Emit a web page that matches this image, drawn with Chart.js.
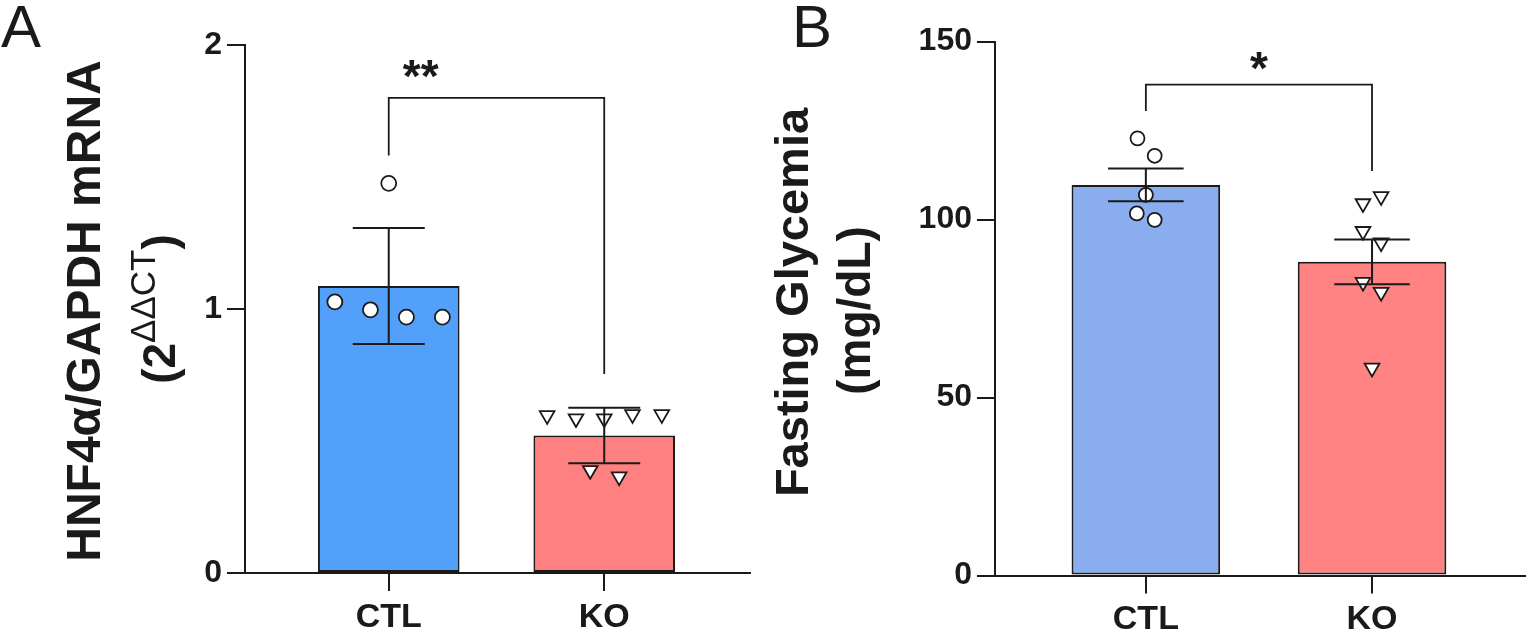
<!DOCTYPE html>
<html>
<head>
<meta charset="utf-8">
<script src="https://cdn.jsdelivr.net/npm/chart.js@4.4.1/dist/chart.umd.min.js"></script>
<style>
  html, body { margin: 0; padding: 0; background: #fff; }
  .panel { position: absolute; top: 0; height: 633px; }
  #boxA { left: 0; width: 760px; }
  #boxB { left: 760px; width: 775px; }
</style>
</head>
<body>
<div class="panel" id="boxA"><canvas id="chartA"></canvas></div>
<div class="panel" id="boxB"><canvas id="chartB"></canvas></div>
<script>
// groups on the x axis
const groups = ['CTL', 'KO'];

// panel A: HNF4a / GAPDH mRNA
const mrnaMean = [1.087, 0.521];
const mrnaSem = [0.22, 0.105];
const mrnaCtl = [1.476, 1.027, 0.997, 0.969, 0.969];
const mrnaCtlX = [0, -0.25, -0.085, 0.082, 0.249];
const mrnaKo = [0.597, 0.585, 0.585, 0.601, 0.601, 0.389, 0.365];
const mrnaKoX = [-0.265, -0.131, 0, 0.131, 0.267, -0.065, 0.069];
const mrnaBracketX = [0, 0, 1, 1];
const mrnaBracketY = [1.581, 1.80, 1.80, 0.754];
const mrnaTicks = [0, 1, 2];

// panel B: fasting glycemia
const glyMean = [109.7, 88.1];
const glySem = [4.6, 6.3];
const glyCtl = [122.8, 117.9, 106.9, 101.7, 99.9];
const glyCtlX = [-0.037, 0.039, 0, -0.04, 0.039];
const glyKo = [104.5, 106.5, 96.7, 93.5, 82.4, 79.6, 58.3];
const glyKoX = [-0.04, 0.04, -0.04, 0.04, -0.04, 0.04, 0];
const glyBracketX = [0, 0, 1, 1];
const glyBracketY = [130.5, 137.9, 137.9, 113.6];
const glyTicks = [0, 50, 100, 150];

const FONT = '"Liberation Sans", Arial, Helvetica, sans-serif';
const INK = '#1a1a1a';

function pts(xs, ys, base) {
    return ys.map((v, i) => ({ x: base + xs[i], y: v }));
}

// error bars, significance star, axis title and panel letter
function makeExtras(o) {
    return {
        id: 'extras',
        afterDatasetsDraw(chart) {
            const ctx = chart.ctx;
            const x = chart.scales.x, y = chart.scales.y;
            ctx.save();
            ctx.strokeStyle = INK;
            ctx.lineWidth = 2;
            o.mean.forEach((m, i) => {
                const px = x.getPixelForValue(i);
                const hw = x.getPixelForValue(i + 0.167) - px;
                const top = y.getPixelForValue(m + o.sem[i]);
                const bot = y.getPixelForValue(m - o.sem[i]);
                ctx.beginPath();
                ctx.moveTo(px, top); ctx.lineTo(px, bot);
                ctx.moveTo(px - hw, top); ctx.lineTo(px + hw, top);
                ctx.moveTo(px - hw, bot); ctx.lineTo(px + hw, bot);
                ctx.stroke();
            });
            ctx.fillStyle = INK;
            ctx.font = 'bold 46px ' + FONT;
            ctx.textAlign = 'center';
            ctx.textBaseline = 'alphabetic';
            ctx.fillText(o.star, x.getPixelForValue(o.starX), y.getPixelForValue(o.starY) + 26);
            ctx.restore();
        },
        afterDraw(chart) {
            const ctx = chart.ctx;
            const area = chart.chartArea;
            const cy = (area.top + area.bottom) / 2;
            ctx.save();
            ctx.fillStyle = INK;
            // panel letter
            ctx.font = '60px ' + FONT;
            ctx.textAlign = 'left';
            ctx.textBaseline = 'alphabetic';
            ctx.fillText(o.letter, o.letterX, 47);
            // rotated y title, each line is a list of [text, font, raise]
            o.title.forEach((line) => {
                let w = 0;
                line.parts.forEach((p) => { ctx.font = p[1]; w += ctx.measureText(p[0]).width; });
                ctx.save();
                ctx.translate(line.base, cy + line.shift);
                ctx.rotate(-Math.PI / 2);
                let pos = -w / 2;
                line.parts.forEach((p) => {
                    ctx.font = p[1];
                    ctx.fillText(p[0], pos, -(p[2] || 0));
                    pos += ctx.measureText(p[0]).width;
                });
                ctx.restore();
            });
            ctx.restore();
        }
    };
}

function makePanel(id, p) {
    const ctx = document.getElementById(id).getContext('2d');
    return new Chart(ctx, {
        type: 'bar',
        data: {
            datasets: [{
                type: 'line',
                data: pts(p.bracketX, p.bracketY, 0),
                borderColor: INK,
                borderWidth: 1.8,
                pointRadius: 0,
                tension: 0,
                fill: false,
                order: 0
            }, {
                type: 'scatter',
                data: pts(p.ctlX, p.ctl, 0),
                pointStyle: 'circle',
                pointRadius: p.dot,
                backgroundColor: '#ffffff',
                borderColor: INK,
                borderWidth: 1.8,
                order: 1
            }, {
                type: 'scatter',
                data: pts(p.koX, p.ko, 1),
                pointStyle: 'triangle',
                rotation: 180,
                pointRadius: 8.5,
                backgroundColor: '#ffffff',
                borderColor: INK,
                borderWidth: 1.8,
                order: 2
            }, {
                type: 'bar',
                data: p.mean.map((v, i) => ({ x: i, y: v })),
                backgroundColor: p.colors,
                borderColor: INK,
                borderWidth: 2,
                borderSkipped: false,
                barPercentage: 0.657,
                categoryPercentage: 1,
                order: 3
            }]
        },
        options: {
            responsive: true,
            maintainAspectRatio: false,
            animation: false,
            events: [],
            layout: { padding: { left: 0, right: p.padRight, top: p.padTop, bottom: 0 } },
            plugins: {
                legend: { display: false },
                tooltip: { enabled: false }
            },
            scales: {
                x: {
                    type: 'linear',
                    offset: false,
                    min: -0.667,
                    max: 1.675,
                    afterFit: (s) => { s.height = p.xHeight; },
                    afterBuildTicks: (s) => { s.ticks = groups.map((g, i) => ({ value: i })); },
                    ticks: {
                        autoSkip: false,
                        padding: 6,
                        color: INK,
                        font: { family: FONT, size: 34, weight: 'bold' },
                        callback: (v) => groups[v]
                    },
                    grid: { offset: false, drawOnChartArea: false, tickLength: 18, color: INK, lineWidth: 2 },
                    border: { color: INK, width: 2 }
                },
                y: {
                    min: 0,
                    max: p.ticks[p.ticks.length - 1],
                    afterFit: (s) => { s.width = p.yWidth; },
                    afterBuildTicks: (s) => { s.ticks = p.ticks.map((v) => ({ value: v })); },
                    ticks: {
                        padding: 5,
                        color: INK,
                        font: { family: FONT, size: 32, weight: 'bold' }
                    },
                    grid: { drawOnChartArea: false, tickLength: 18, color: INK, lineWidth: 2 },
                    border: { color: INK, width: 2 }
                }
            }
        },
        plugins: [makeExtras(p)]
    });
}

makePanel('chartA', {
    mean: mrnaMean, sem: mrnaSem,
    ctl: mrnaCtl, ctlX: mrnaCtlX, ko: mrnaKo, koX: mrnaKoX,
    bracketX: mrnaBracketX, bracketY: mrnaBracketY,
    ticks: mrnaTicks,
    colors: ['#52a0fa', '#ff8080'],
    dot: 7.5,
    star: '**', starX: 0.148, starY: 1.92,
    letter: 'A', letterX: 1,
    yWidth: 245, xHeight: 60, padTop: 45, padRight: 9,
    title: [
        { base: 100, shift: 2, parts: [['HNF4\u03B1/GAPDH mRNA', 'bold 48px ' + FONT]] },
        { base: 175, shift: 0, parts: [['(2', 'bold 46px ' + FONT], ['\u0394\u0394CT', '35px ' + FONT, 20], [')', 'bold 46px ' + FONT]] }
    ]
});

makePanel('chartB', {
    mean: glyMean, sem: glySem,
    ctl: glyCtl, ctlX: glyCtlX, ko: glyKo, koX: glyKoX,
    bracketX: glyBracketX, bracketY: glyBracketY,
    ticks: glyTicks,
    colors: ['#8aadf0', '#ff8383'],
    dot: 7,
    star: '*', starX: 0.5, starY: 145.4,
    letter: 'B', letterX: 32,
    yWidth: 235, xHeight: 57.5, padTop: 41.5, padRight: 5,
    title: [
        { base: 48, shift: -6, parts: [['Fasting Glycemia', 'bold 47px ' + FONT]] },
        { base: 110, shift: 2, parts: [['(mg/dL)', 'bold 46px ' + FONT]] }
    ]
});
</script>
</body>
</html>
